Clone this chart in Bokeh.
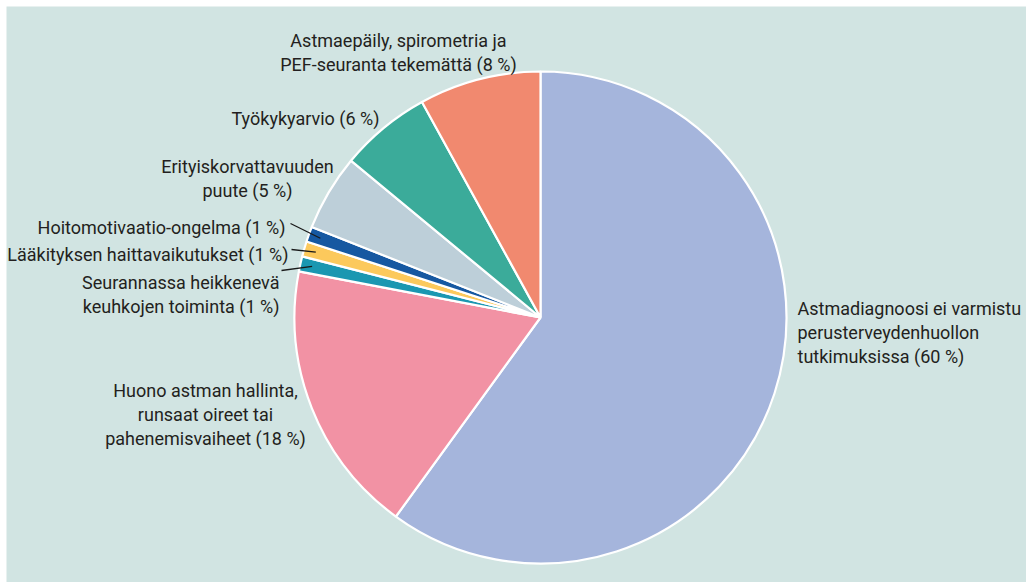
import math
from bokeh.plotting import figure
from bokeh.models import ColumnDataSource
from bokeh.core.properties import value
from bokeh.embed import file_html
from bokeh.resources import INLINE

# ---- data ----
categories = [
    "Astmadiagnoosi ei varmistu perusterveydenhuollon tutkimuksissa",
    "Huono astman hallinta, runsaat oireet tai pahenemisvaiheet",
    "Seurannassa heikkenevä keuhkojen toiminta",
    "Lääkityksen haittavaikutukset",
    "Hoitomotivaatio-ongelma",
    "Erityiskorvattavuuden puute",
    "Työkykyarvio",
    "Astmaepäily, spirometria ja PEF-seuranta tekemättä",
]
values = [60, 18, 1, 1, 1, 5, 6, 8]
colors = ["#a5b5dc", "#f292a4", "#1b97b1", "#fcc95c", "#1658a1", "#bdcfd9", "#3bab9a", "#f1896f"]

label_lines = [
    ["Astmadiagnoosi ei varmistu", " perusterveydenhuollon", "tutkimuksissa (60 %)"],
    ["Huono astman hallinta,", "runsaat oireet tai", "pahenemisvaiheet (18 %)"],
    ["Seurannassa heikkenevä", "keuhkojen toiminta (1 %)"],
    ["Lääkityksen haittavaikutukset (1 %)"],
    ["Hoitomotivaatio-ongelma (1 %)"],
    ["Erityiskorvattavuuden", "puute (5 %)"],
    ["Työkykyarvio (6 %)"],
    ["Astmaepäily, spirometria ja", "PEF-seuranta tekemättä (8 %)"],
]

# ---- layout (pixel space, y measured from top of window) ----
W, H = 1026, 582
CX, CY, R = 540, 317, 246
FONT = "Roboto"
FSIZE = "18px"
LINE_H = 24
TXT = "#231f20"

# label anchor: (x, first baseline y, align)
label_pos = [
    (797, 308, "left"),
    (205, 390, "center"),
    (279, 282, "right"),
    (288, 254, "right"),
    (285, 227, "right"),
    (247, 166, "center"),
    (305, 118, "center"),
    (398, 40, "center"),
]
# leader line outer ends for the three small slices (index -> point)
leader_out = {2: (281, 270), 3: (291, 249), 4: (290, 223)}


def Y(ypx):
    return H - ypx


p = figure(width=W, height=H, output_backend="svg", toolbar_location=None,
           x_range=(6, W), y_range=(0, H - 6), x_axis_type=None, y_axis_type=None,
           min_border_left=6, min_border_top=6, min_border_right=0, min_border_bottom=0)
p.grid.visible = False
p.outline_line_color = None
p.border_fill_color = "white"
p.background_fill_color = "#d1e4e2"

total = float(sum(values))
starts, ends, mids = [], [], []
cum = 0.0
for v in values:
    a0 = math.pi / 2 - cum / total * 2 * math.pi
    cum += v
    a1 = math.pi / 2 - cum / total * 2 * math.pi
    starts.append(a0)
    ends.append(a1)
    mids.append((a0 + a1) / 2)

src = ColumnDataSource(dict(cat=categories, val=values, color=colors,
                            start=starts, end=ends))
p.wedge(x=CX, y=Y(CY), radius=R, start_angle="start", end_angle="end",
        direction="clock", fill_color="color", line_color="white",
        line_width=2.2, source=src)

# leader lines
lx0, ly0, lx1, ly1 = [], [], [], []
for i, (ox, oy) in leader_out.items():
    rr = R - 12
    ix = CX + rr * math.cos(mids[i])
    iy = Y(CY) + rr * math.sin(mids[i])
    lx0.append(ox); ly0.append(Y(oy)); lx1.append(ix); ly1.append(iy)
p.segment(x0=lx0, y0=ly0, x1=lx1, y1=ly1, line_color="#1a1a1a", line_width=1.3)

# labels
tx, ty, tt, ta = [], [], [], []
for lines, (x, y, al) in zip(label_lines, label_pos):
    for k, s in enumerate(lines):
        tx.append(x); ty.append(Y(y + k * LINE_H)); tt.append(s); ta.append(al)
tsrc = ColumnDataSource(dict(x=tx, y=ty, t=tt, a=ta))
p.text(x="x", y="y", text="t", text_align="a", text_baseline="alphabetic",
       text_font=value(FONT), text_font_size=FSIZE, text_color=TXT, source=tsrc)

open("out.html", "w").write(file_html(p, INLINE))
